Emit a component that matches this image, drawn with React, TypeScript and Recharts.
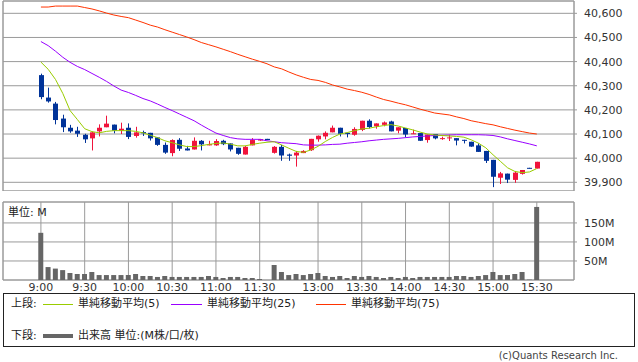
import React from "react";
import { Bar, BarChart, CartesianGrid, ComposedChart, Line, ReferenceArea, XAxis, YAxis } from "recharts";

const FONT = '"DejaVu Sans", "Noto Sans CJK JP", sans-serif';
const GRID = "#9a9a9a";
const UP = "#f0143c";
const DOWN = "#003399";

// x slots: 5-minute bars, index 31 is the lunch gap slot
const tickSlots = [0, 6, 12, 18, 24, 30, 38, 44, 50, 56, 62, 68];
const tickLabels = ["9:00", "9:30", "10:00", "10:30", "11:00", "11:30", "13:00", "13:30", "14:00", "14:30", "15:00", "15:30"];
const priceTicks = [39900, 40000, 40100, 40200, 40300, 40400, 40500, 40600];
const volumeTicks = [50, 100, 150];

const opens = [40344, 40251, 40226, 40164, 40126, 40114, 40097, 40082, 40111, 40128, 40139, 40114, 40126, 40092, 40108, 40105, 40086, 40055, 40021, 40076, 40040, 40036, 40072, 40053, 40053, 40072, 40061, 40043, 40015, 40053, 40073, 40080, 40022, 40047, 40015, 40011, 40021, 40033, 40078, 40090, 40107, 40126, 40105, 40097, 40117, 40155, 40132, 40138, 40152, 40114, 40125, 40100, 40104, 40075, 40100, 40079, 40082, 40083, 40076, 40068, 40053, 40030, 39993, 39919, 39936, 39910, 39935, 39960, 39957];
const highs = [40350, 40292, 40233, 40180, 40138, 40130, 40101, 40110, 40140, 40176, 40139, 40147, 40144, 40130, 40114, 40105, 40086, 40065, 40078, 40083, 40051, 40086, 40075, 40072, 40079, 40076, 40061, 40043, 40051, 40083, 40080, 40080, 40050, 40055, 40019, 40030, 40033, 40080, 40094, 40111, 40135, 40126, 40105, 40128, 40155, 40161, 40144, 40152, 40155, 40128, 40125, 40118, 40104, 40098, 40100, 40089, 40097, 40083, 40076, 40068, 40061, 40030, 39993, 39943, 39936, 39947, 39951, 39960, 39985];
const lows = [40244, 40230, 40140, 40108, 40105, 40088, 40063, 40032, 40090, 40128, 40103, 40100, 40079, 40085, 40092, 40073, 40051, 40018, 40008, 40030, 40032, 40036, 40032, 40053, 40051, 40054, 40028, 40014, 40015, 40053, 40072, 40075, 40019, 39989, 39989, 39965, 40021, 40030, 40068, 40078, 40107, 40090, 40086, 40093, 40112, 40123, 40122, 40132, 40111, 40103, 40086, 40100, 40071, 40064, 40078, 40076, 40071, 40053, 40061, 40047, 40026, 39980, 39880, 39893, 39897, 39898, 39932, 39957, 39957];
const closes = [40253, 40235, 40158, 40128, 40111, 40101, 40078, 40107, 40126, 40143, 40114, 40122, 40088, 40107, 40103, 40082, 40055, 40023, 40075, 40039, 40032, 40072, 40057, 40058, 40071, 40058, 40036, 40018, 40047, 40075, 40079, 40075, 40047, 40011, 40010, 40023, 40030, 40080, 40093, 40105, 40126, 40101, 40100, 40121, 40155, 40129, 40144, 40148, 40111, 40128, 40098, 40103, 40072, 40098, 40082, 40083, 40086, 40073, 40072, 40048, 40026, 39989, 39923, 39937, 39911, 39940, 39951, 39957, 39985];
const ma5 = [40398, 40368, 40326, 40268, 40197, 40160, 40122, 40110, 40105, 40111, 40114, 40114, 40114, 40111, 40105, 40095, 40085, 40072, 40064, 40055, 40048, 40048, 40052, 40057, 40061, 40063, 40058, 40051, 40051, 40057, 40062, 40066, 40068, 40055, 40041, 40028, 40024, 40034, 40049, 40069, 40086, 40100, 40106, 40114, 40121, 40124, 40130, 40135, 40139, 40133, 40125, 40117, 40108, 40100, 40096, 40094, 40092, 40090, 40087, 40076, 40062, 40043, 40014, 39987, 39960, 39945, 39940, 39943, 39957];
const ma25 = [40483, 40466, 40443, 40418, 40397, 40380, 40367, 40351, 40335, 40318, 40299, 40282, 40272, 40260, 40247, 40237, 40224, 40210, 40197, 40183, 40169, 40155, 40137, 40120, 40104, 40094, 40085, 40080, 40078, 40078, 40078, 40072, 40068, 40064, 40062, 40060, 40055, 40054, 40054, 40055, 40057, 40058, 40062, 40065, 40068, 40072, 40075, 40078, 40080, 40082, 40085, 40088, 40090, 40092, 40094, 40095, 40096, 40097, 40097, 40097, 40097, 40096, 40094, 40088, 40080, 40073, 40066, 40059, 40051];
const ma75 = [40626, 40626, 40630, 40630, 40630, 40630, 40624, 40618, 40610, 40601, 40593, 40587, 40582, 40572, 40562, 40551, 40543, 40532, 40522, 40512, 40502, 40491, 40479, 40470, 40461, 40451, 40441, 40430, 40420, 40410, 40401, 40391, 40378, 40370, 40357, 40345, 40335, 40326, 40322, 40314, 40303, 40295, 40286, 40280, 40273, 40264, 40253, 40243, 40236, 40228, 40221, 40212, 40203, 40195, 40187, 40183, 40179, 40171, 40164, 40155, 40149, 40143, 40138, 40130, 40123, 40116, 40110, 40104, 40100];
const volumes = [124, 34, 30, 26, 18.4, 15.8, 15.8, 21, 13, 13, 13, 13, 13, 15.8, 10.5, 10.5, 8, 10.5, 8, 8, 8, 8, 8, 10.5, 8, 5.3, 8, 8, 5.3, 5.3, 2.6, 0, 39.5, 21, 13, 15.8, 13, 15.8, 18.4, 10.5, 8, 10.5, 5.3, 10.5, 8, 10.5, 8, 5.3, 8, 5.3, 8, 5.3, 8, 8, 8, 8, 8, 10.5, 10.5, 8, 10.5, 13, 21, 13, 13, 15.8, 21, 1, 192];

const X_DOMAIN: [number, number] = [-5.2, 73.1];
const P_DOMAIN: [number, number] = [39864, 40651];
const V_DOMAIN: [number, number] = [0, 205];

const data = opens.map((open, i) => ({
  i,
  open,
  high: highs[i],
  low: lows[i],
  close: closes[i],
  range: [lows[i], highs[i]],
  ma5: ma5[i],
  ma25: ma25[i],
  ma75: ma75[i],
  volume: volumes[i],
}));

const Candle = (props: any) => {
  const { x, y, width, height, payload } = props;
  const { open, close, high, low } = payload;
  const ratio = high === low ? 0 : height / (high - low);
  const cx = Math.round(x + width / 2) + 0.5;
  const top = y + (high - Math.max(open, close)) * ratio;
  const bottom = y + (high - Math.min(open, close)) * ratio;
  const color = close >= open ? UP : DOWN;
  return (
    <g>
      <line x1={cx} x2={cx} y1={y} y2={y + height} stroke={color} strokeWidth={1} />
      <rect x={cx - 2.5} y={top} width={5} height={Math.max(1, bottom - top)} fill={color} />
    </g>
  );
};

const tickStyle = { fontSize: 11, fontFamily: FONT, fill: "#333" };
const timeLabel = (v: number) => tickLabels[tickSlots.indexOf(v)] ?? "";

const abs = (left: number, top: number): React.CSSProperties => ({ position: "absolute", left, top });

export default function App() {
  return (
    <div style={{ position: "absolute", left: 0, top: 0, width: 638, height: 362, background: "#fff", fontFamily: FONT }}>
      <div style={abs(0, 0)}>
        <ComposedChart width={638} height={191} data={data} margin={{ top: 1, right: 0, left: 3, bottom: 0 }}>
          <CartesianGrid stroke={GRID} />
          <XAxis dataKey="i" type="number" domain={X_DOMAIN} allowDataOverflow ticks={tickSlots} interval={0} tick={false} tickLine={false} axisLine={false} height={0} />
          <YAxis orientation="right" width={64} domain={P_DOMAIN} allowDataOverflow ticks={priceTicks} interval={0} tickSize={3} tickMargin={7} axisLine={false} tickLine={{ stroke: GRID }} tick={tickStyle} tickFormatter={(v: number) => v.toLocaleString("en-US")} />
          <ReferenceArea x1={X_DOMAIN[0]} x2={X_DOMAIN[1]} y1={P_DOMAIN[0]} y2={P_DOMAIN[1]} fill="none" stroke={GRID} />
          <Line dataKey="ma75" stroke="#ff3300" strokeWidth={1} dot={false} isAnimationActive={false} />
          <Line dataKey="ma25" stroke="#9900ff" strokeWidth={1} dot={false} isAnimationActive={false} />
          <Line dataKey="ma5" stroke="#99cc00" strokeWidth={1} dot={false} isAnimationActive={false} />
          <Bar dataKey="range" barSize={5} shape={Candle} isAnimationActive={false} />
        </ComposedChart>
      </div>

      <div style={abs(0, 200)}>
        <BarChart width={638} height={100} data={data} margin={{ top: 2, right: 0, left: 3, bottom: 0 }}>
          <CartesianGrid stroke={GRID} />
          <XAxis dataKey="i" type="number" domain={X_DOMAIN} allowDataOverflow ticks={tickSlots} interval={0} tickLine={false} axisLine={false} tickSize={0} tickMargin={3} height={20} tick={tickStyle} tickFormatter={timeLabel} />
          <YAxis orientation="right" width={64} domain={V_DOMAIN} allowDataOverflow ticks={volumeTicks} interval={0} tickSize={3} tickMargin={7} axisLine={false} tickLine={{ stroke: GRID }} tick={tickStyle} tickFormatter={(v: number) => `${v}M`} />
          <ReferenceArea x1={X_DOMAIN[0]} x2={X_DOMAIN[1]} y1={V_DOMAIN[0]} y2={V_DOMAIN[1]} fill="none" stroke={GRID} />
          <Bar dataKey="volume" barSize={5} fill="#666" isAnimationActive={false} />
        </BarChart>
      </div>
      <div style={{ ...abs(8, 203), fontSize: 11, color: "#222" }}>単位: M</div>

      <div style={{ ...abs(3, 293), width: 630, height: 52, border: "1px solid #222" }} />
      <div style={{ fontSize: 11, color: "#222", lineHeight: "12px" }}>
        <span style={abs(11, 298)}>上段:</span>
        <div style={{ ...abs(43, 304), width: 30, height: 1, background: "#99cc00" }} />
        <span style={abs(78, 298)}>単純移動平均(5)</span>
        <div style={{ ...abs(171, 304), width: 31, height: 1, background: "#9900ff" }} />
        <span style={abs(207, 298)}>単純移動平均(25)</span>
        <div style={{ ...abs(316, 304), width: 30, height: 1, background: "#ff3300" }} />
        <span style={abs(351, 298)}>単純移動平均(75)</span>
        <span style={abs(11, 330)}>下段:</span>
        <div style={{ ...abs(43, 334), width: 30, height: 4, background: "#666" }} />
        <span style={abs(78, 330)}>出来高 単位:(M株/口/枚)</span>
      </div>
      <div style={{ position: "absolute", right: 20, top: 350, fontSize: 10, color: "#444" }}>(c)Quants Research Inc.</div>
    </div>
  );
}
